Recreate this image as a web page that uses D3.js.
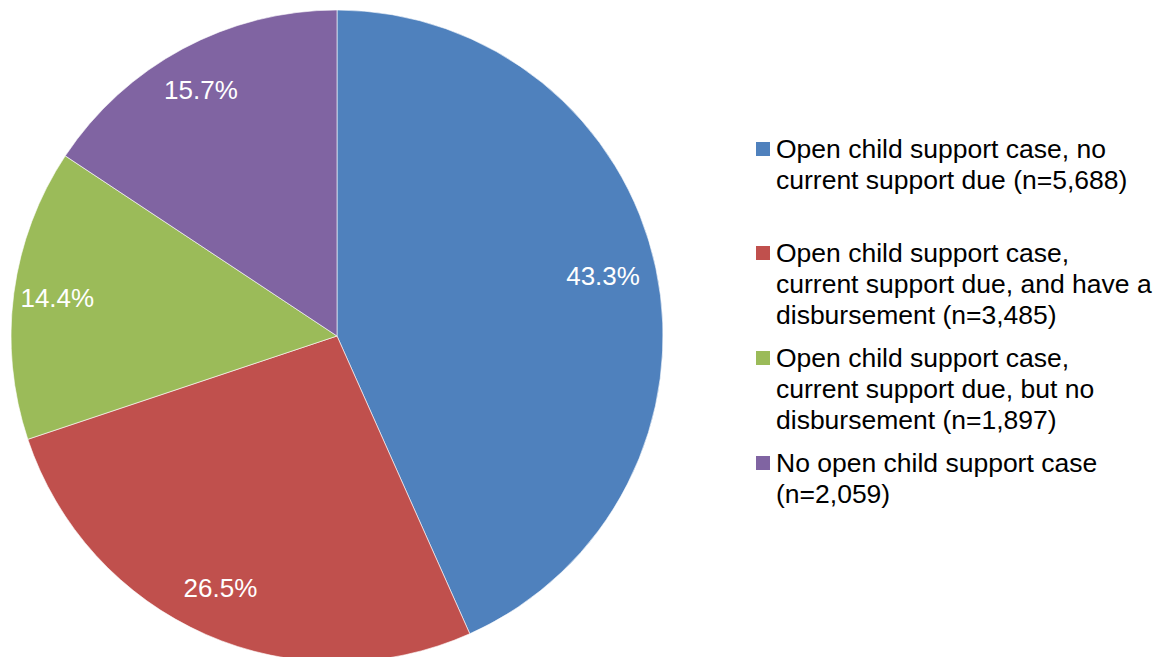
<!DOCTYPE html>
<html>
<head>
<meta charset="utf-8">
<script src="https://cdn.jsdelivr.net/npm/d3@7"></script>
<style>
  body { margin: 0; background: #fff; }
  text { font-family: "Liberation Sans", Arial, sans-serif; }
</style>
</head>
<body>
<div id="chart"></div>
<script>
// Slice data, clockwise from 12 o'clock
var categories = [
  "Open child support case, no current support due",
  "Open child support case, current support due, and have a disbursement",
  "Open child support case, current support due, but no disbursement",
  "No open child support case"
];
var counts = [5688, 3485, 1897, 2059];
var pctLabels = ["43.3%", "26.5%", "14.4%", "15.7%"];
var colors = ["#4F81BD", "#C0504D", "#9BBB59", "#8064A2"];
// legend text, already broken into lines as in the original
var legendLines = [
  ["Open child support case, no", "current support due (n=5,688)"],
  ["Open child support case,", "current support due, and have a", "disbursement (n=3,485)"],
  ["Open child support case,", "current support due, but no", "disbursement (n=1,897)"],
  ["No open child support case", "(n=2,059)"]
];

var width = 1159, height = 657,
    cx = 337, cy = 336, radius = 326;

var svg = d3.select("#chart").append("svg")
  .attr("width", width)
  .attr("height", height);

var pie = d3.pie().sort(null).value(function(d) { return d; });
var arcs = pie(counts);

var arc = d3.arc().innerRadius(0).outerRadius(radius);
var labelArc = d3.arc().innerRadius(radius * 0.85).outerRadius(radius * 0.85);

var g = svg.append("g").attr("transform", "translate(" + cx + "," + cy + ")");

g.selectAll("path.slice")
  .data(arcs)
  .enter().append("path")
    .attr("class", "slice")
    .attr("d", arc)
    .attr("fill", function(d, i) { return colors[i]; })
    .attr("stroke", "#fff")
    .attr("stroke-width", 0.6);

g.selectAll("text.pct")
  .data(arcs)
  .enter().append("text")
    .attr("class", "pct")
    .attr("transform", function(d) {
      var c = labelArc.centroid(d);
      return "translate(" + (c[0] - 5) + "," + (c[1] - 2) + ")";
    })
    .attr("text-anchor", "middle")
    .attr("dy", "0.35em")
    .attr("fill", "#fff")
    .style("font-size", "26px")
    .text(function(d, i) { return pctLabels[i]; });

// legend
var lineH = 31,
    legendX = 756,
    entryTops = [149, 253, 358, 463];

var legend = svg.append("g");
var items = legend.selectAll("g.item")
  .data(categories)
  .enter().append("g")
    .attr("class", "item")
    .attr("transform", function(d, i) { return "translate(" + legendX + "," + entryTops[i] + ")"; });

items.append("rect")
  .attr("x", 0)
  .attr("y", -7)
  .attr("width", 14)
  .attr("height", 14)
  .attr("fill", function(d, i) { return colors[i]; });

items.append("text")
  .attr("x", 20)
  .attr("y", 0)
  .attr("fill", "#000")
  .style("font-size", "26.5px")
  .each(function(d, i) {
    var t = d3.select(this);
    legendLines[i].forEach(function(line, j) {
      t.append("tspan")
        .attr("x", 20)
        .attr("y", j * lineH)
        .attr("dy", "0.35em")
        .text(line);
    });
  });
</script>
</body>
</html>
